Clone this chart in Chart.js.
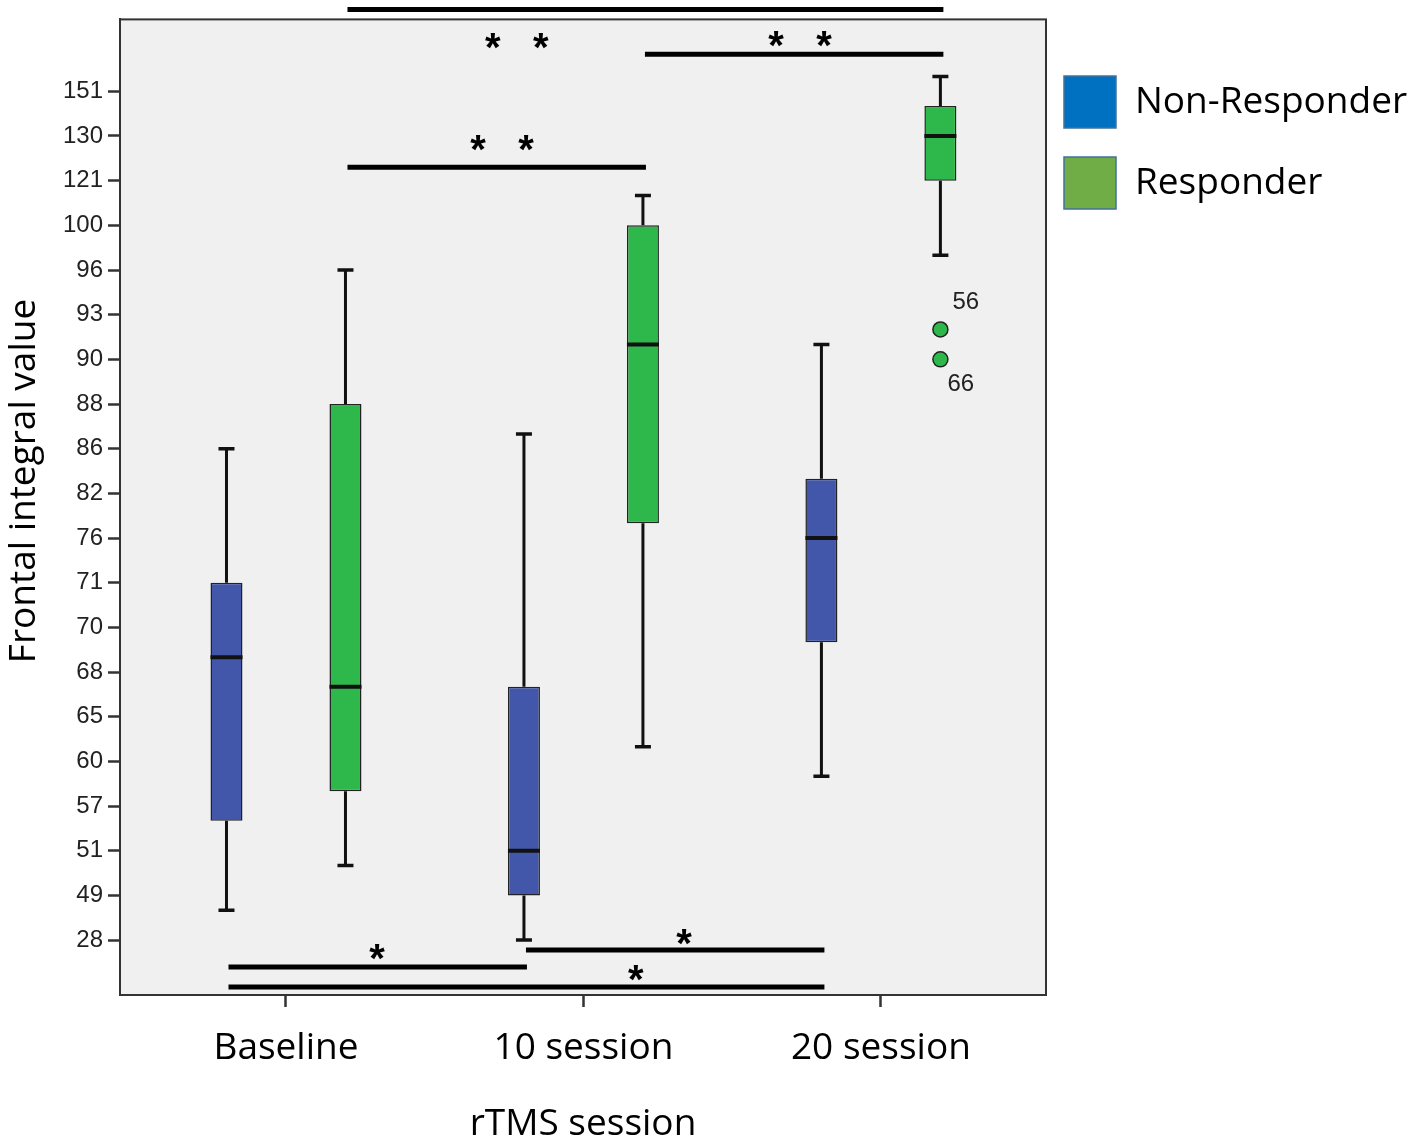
<!DOCTYPE html>
<html><head><meta charset="utf-8">
<script src="https://cdn.jsdelivr.net/npm/chart.js@4.4.0/dist/chart.umd.min.js"></script>
<style>html,body{margin:0;padding:0;background:#fff}#wrap{width:1417px;height:1144px}</style>
</head><body><div id="wrap"><canvas id="c" width="1417" height="1144"></canvas></div>
<script>
// ---- data (values are positions on the ordinal y axis: 0 = "28" ... 19 = "151") ----
const categories = ['Baseline', '10 session', '20 session'];
const yTickLabels = ['28','49','51','57','60','65','68','70','71','76','82','86','88','90','93','96','100','121','130','151'];
const seriesNames = ['Non-Responder', 'Responder'];

const nrMin    = [0.67, 0.00, 3.67];
const nrQ1     = [2.67, 1.00, 6.67];
const nrMedian = [6.33, 2.00, 9.00];
const nrQ3     = [8.00, 5.67, 10.33];
const nrMax    = [11.00, 11.33, 13.33];

const rMin     = [1.67, 4.33, 15.33];
const rQ1      = [3.33, 9.33, 17.00];
const rMedian  = [5.67, 13.33, 18.00];
const rQ3      = [12.00, 16.00, 18.67];
const rMax     = [15.00, 16.67, 19.33];

const outlierSeries   = [1, 1];
const outlierCategory = [2, 2];
const outlierValues   = [13.67, 13.00];
const outlierLabels   = ['56', '66'];

// significance comparisons: [category, series] pairs, bar level, star text & its position (axis units)
const sigFrom  = [[0,1], [1,1], [0,1], [1,0], [0,0], [0,0]];
const sigTo    = [[2,1], [2,1], [1,1], [2,0], [1,0], [2,0]];
const sigLevel = [20.83, 19.83, 17.30, -0.22, -0.60, -1.05];
const sigText  = ['**', '**', '**', '*', '*', '*'];
const sigTextX = [0.776, 1.728, 0.726, 1.338, 0.306, 1.176];
const sigTextY = [20.12, 20.18, 17.84, 0.07, -0.27, -0.74];

const xTitle = 'rTMS session';
const yTitle = 'Frontal integral value';

// ---- styles ----
const boxColors = ['#4257AA', '#2EB84B'];
const legendColors = ['#0070C0', '#70AD47'];
const FONT = "'Open Sans', sans-serif";
const TICKFONT = "'Liberation Sans', Arial, sans-serif";

const stats = [
  {min: nrMin, q1: nrQ1, med: nrMedian, q3: nrQ3, max: nrMax},
  {min: rMin,  q1: rQ1,  med: rMedian,  q3: rQ3,  max: rMax}
];

const boxPlugin = {
  id: 'boxplotDraw',
  beforeDraw(chart) {
    const {ctx, chartArea: a} = chart;
    ctx.save();
    ctx.fillStyle = '#f0f0f0';
    ctx.fillRect(a.left, a.top, a.right - a.left, a.bottom - a.top);
    ctx.restore();
  },
  beforeDatasetsDraw(chart) {
    const {ctx, chartArea: a} = chart;
    ctx.save();
    ctx.strokeStyle = '#333';
    ctx.lineWidth = 2;
    ctx.strokeRect(a.left, a.top, a.right - a.left, a.bottom - a.top);
    ctx.restore();
  },
  afterDatasetsDraw(chart) {
    const {ctx} = chart;
    const y = chart.scales.y;
    ctx.save();
    stats.forEach((s, k) => {
      const meta = chart.getDatasetMeta(k);
      meta.data.forEach((el, i) => {
        const x = el.x, w = el.width;
        const pMax = y.getPixelForValue(s.max[i]);
        const pQ3 = y.getPixelForValue(s.q3[i]);
        const pQ1 = y.getPixelForValue(s.q1[i]);
        const pMin = y.getPixelForValue(s.min[i]);
        const pMed = y.getPixelForValue(s.med[i]);
        ctx.strokeStyle = '#111';
        ctx.lineWidth = 3;
        ctx.beginPath();
        ctx.moveTo(x, pMax); ctx.lineTo(x, pQ3);
        ctx.moveTo(x, pQ1); ctx.lineTo(x, pMin);
        ctx.stroke();
        ctx.lineWidth = 3.5;
        ctx.beginPath();
        ctx.moveTo(x - 8, pMax); ctx.lineTo(x + 8, pMax);
        ctx.moveTo(x - 8, pMin); ctx.lineTo(x + 8, pMin);
        ctx.stroke();
        ctx.lineWidth = 4;
        ctx.beginPath();
        ctx.moveTo(x - w / 2, pMed); ctx.lineTo(x + w / 2, pMed);
        ctx.stroke();
      });
    });
    // outliers
    const labelOffsets = [[12, -27], [7, 25]];
    outlierValues.forEach((v, j) => {
      const el = chart.getDatasetMeta(outlierSeries[j]).data[outlierCategory[j]];
      const px = el.x, py = y.getPixelForValue(v);
      ctx.beginPath();
      ctx.arc(px, py, 7.5, 0, Math.PI * 2);
      ctx.fillStyle = boxColors[outlierSeries[j]];
      ctx.fill();
      ctx.lineWidth = 1.5;
      ctx.strokeStyle = '#222';
      ctx.stroke();
      ctx.fillStyle = '#222';
      ctx.font = '24px ' + TICKFONT;
      ctx.textAlign = 'left';
      ctx.textBaseline = 'middle';
      ctx.fillText(outlierLabels[j], px + labelOffsets[j][0], py + labelOffsets[j][1]);
    });
    ctx.restore();
  },
  afterDraw(chart) {
    const {ctx} = chart;
    const xs = chart.scales.x, ys = chart.scales.y;
    ctx.save();
    // significance bars
    sigLevel.forEach((lvl, j) => {
      const a = chart.getDatasetMeta(sigFrom[j][1]).data[sigFrom[j][0]];
      const b = chart.getDatasetMeta(sigTo[j][1]).data[sigTo[j][0]];
      const py = ys.getPixelForValue(lvl);
      ctx.strokeStyle = '#000';
      ctx.lineWidth = 5;
      ctx.beginPath();
      ctx.moveTo(a.x + 2, py); ctx.lineTo(b.x + 3, py);
      ctx.stroke();
      ctx.fillStyle = '#000';
      ctx.font = 'bold 40px ' + TICKFONT;
      ctx.textAlign = 'center';
      ctx.textBaseline = 'alphabetic';
      const chars = sigText[j].split('');
      const cx = xs.getPixelForValue(sigTextX[j]);
      const cy = ys.getPixelForValue(sigTextY[j]);
      const gap = 48;
      chars.forEach((ch, n) => {
        const m = ctx.measureText(ch);
        const sx = cx + (n - (chars.length - 1) / 2) * gap;
        ctx.fillText(ch, sx, cy + m.actualBoundingBoxAscent - (m.actualBoundingBoxAscent + m.actualBoundingBoxDescent) / 2);
      });
    });
    // y axis title
    ctx.save();
    ctx.translate(24, 481);
    ctx.rotate(-Math.PI / 2);
    ctx.fillStyle = '#000';
    ctx.font = '37px ' + FONT;
    ctx.textAlign = 'center';
    ctx.textBaseline = 'middle';
    ctx.fillText(yTitle, 0, 0);
    ctx.restore();
    // legend
    const lx = 1064, ly = [76, 157], size = 52;
    seriesNames.forEach((name, k) => {
      ctx.fillStyle = legendColors[k];
      ctx.fillRect(lx, ly[k], size, size);
      ctx.strokeStyle = '#41719C';
      ctx.lineWidth = 1.5;
      ctx.strokeRect(lx, ly[k], size, size);
      ctx.fillStyle = '#000';
      ctx.font = '37px ' + FONT;
      ctx.textAlign = 'left';
      ctx.textBaseline = 'middle';
      ctx.fillText(name, 1135, ly[k] + size / 2);
    });
    ctx.restore();
  }
};

new Chart(document.getElementById('c'), {
  type: 'bar',
  data: {
    datasets: stats.map((s, k) => ({
      label: seriesNames[k],
      data: categories.map((c, i) => ({x: i, y: [s.q1[i], s.q3[i]]})),
      backgroundColor: boxColors[k],
      borderColor: '#222',
      borderWidth: 1.5,
      borderSkipped: false,
      barPercentage: 0.269,
      categoryPercentage: 0.8
    }))
  },
  options: {
    responsive: false,
    animation: false,
    events: [],
    layout: {padding: {left: 0, top: 18, right: 371, bottom: 0}},
    plugins: {legend: {display: false}, tooltip: {enabled: false}},
    scales: {
      x: {
        type: 'linear',
        min: -0.558, max: 2.555,
        offset: false,
        afterBuildTicks(scale) { scale.ticks = categories.map((c, i) => ({value: i})); },
        afterFit(scale) { scale.height = 149; },
        ticks: {
          autoSkip: false, maxRotation: 0, padding: 19,
          color: '#000', font: {family: FONT, size: 37},
          callback: (v) => categories[v]
        },
        grid: {display: true, offset: false, drawOnChartArea: false, drawTicks: true, tickLength: 12, tickWidth: 2.5, color: '#333'},
        border: {display: true, color: '#333', width: 2},
        title: {display: true, text: xTitle, color: '#000', font: {family: FONT, size: 37}, padding: {top: 0, bottom: -3}}
      },
      y: {
        type: 'linear',
        min: -1.229, max: 20.61,
        afterBuildTicks(scale) { scale.ticks = yTickLabels.map((t, i) => ({value: i})); },
        afterFit(scale) { scale.width = 120; },
        ticks: {
          autoSkip: false, padding: 5,
          color: '#222', font: {family: TICKFONT, size: 24},
          callback: (v) => yTickLabels[v]
        },
        grid: {display: true, offset: false, drawOnChartArea: false, drawTicks: true, tickLength: 12, tickWidth: 2.5, color: '#333'},
        border: {display: true, color: '#333', width: 2},
        title: {display: false}
      }
    }
  },
  plugins: [boxPlugin]
});
</script>
</body></html>
